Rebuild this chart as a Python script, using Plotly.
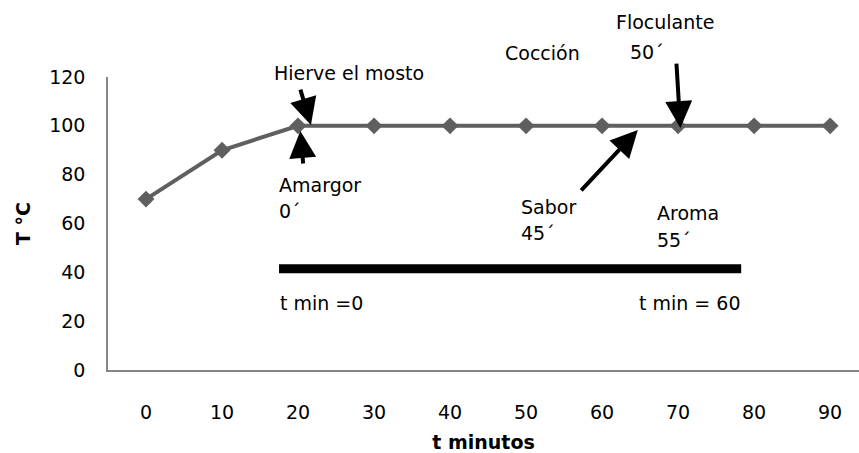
import plotly.graph_objects as go

t_min = [0, 10, 20, 30, 40, 50, 60, 70, 80, 90]
temp = [70, 90, 100, 100, 100, 100, 100, 100, 100, 100]

bar_x = [17.5, 78.3]
bar_y = [41.5, 41.5]

x_ticks = [0, 10, 20, 30, 40, 50, 60, 70, 80, 90]
y_ticks = [0, 20, 40, 60, 80, 100, 120]
Y_MAX = 120

# text labels: (text, x, y, xanchor)
labels = [
    ("Hierve el mosto", 26.7, 121.6, "center"),
    ("Amargor", 17.2, 75.8, "left"),
    ("0´", 17.2, 65.1, "left"),
    ("Cocción", 52.2, 129.8, "center"),
    ("Floculante", 61.6, 142.5, "left"),
    ("50´", 63.4, 130.2, "left"),
    ("Sabor", 49.1, 66.8, "left"),
    ("45´", 49.1, 56.1, "left"),
    ("Aroma", 66.9, 64.3, "left"),
    ("55´", 66.9, 53.2, "left"),
    ("t min =0", 17.3, 27.4, "left"),
    ("t min = 60", 64.6, 27.4, "left"),
]

# arrows: head x, head y, tail offset (px)
arrows = [
    (21.7, 100.3, -11, -37),
    (20.3, 97.9, 3, 34),
    (70.3, 99.1, -4, -66),
    (64.7, 98.3, -58, 62),
]

FONT = "DejaVu Sans"
FS = 19

fig = go.Figure()
fig.add_trace(go.Scatter(
    x=t_min, y=temp, mode="lines+markers",
    line=dict(color="#5f5f5f", width=4),
    marker=dict(symbol="diamond", size=13, color="#5f5f5f"),
    cliponaxis=False, showlegend=False,
))
fig.add_trace(go.Scatter(
    x=bar_x, y=bar_y, mode="lines",
    line=dict(color="black", width=9),
    showlegend=False,
))

annotations = []
for text, x, y, xa in labels:
    annotations.append(dict(x=x, y=y / Y_MAX, xref="x", yref="paper", text=text,
                            xanchor=xa, yanchor="middle", showarrow=False,
                            font=dict(family=FONT, size=FS, color="black")))
for hx, hy, ax, ay in arrows:
    annotations.append(dict(x=hx, y=hy, ax=ax, ay=ay, text="", showarrow=True,
                            arrowhead=2, arrowsize=1.35, arrowwidth=4, arrowcolor="black"))

fig.update_layout(
    width=859, height=453,
    margin=dict(l=108, r=0, t=77, b=83),
    paper_bgcolor="white", plot_bgcolor="white",
    annotations=annotations,
    xaxis=dict(range=[-5, 93.8], tickvals=x_ticks, showgrid=False, zeroline=False,
               showline=True, linecolor="#868686", linewidth=1.5, ticks="",
               ticklabelstandoff=24,
               tickfont=dict(family=FONT, size=FS, color="black"),
               title=dict(text="<b>t minutos</b>", font=dict(family=FONT, size=FS, color="black"), standoff=14)),
    yaxis=dict(range=[0, Y_MAX], tickvals=y_ticks, showgrid=False, zeroline=False,
               showline=True, linecolor="#868686", linewidth=1.5, ticks="",
               ticklabelstandoff=17,
               tickfont=dict(family=FONT, size=FS, color="black"),
               title=dict(text="<b>T °C</b>", font=dict(family=FONT, size=FS, color="black"), standoff=14)),
)

fig.write_html("out.html")
